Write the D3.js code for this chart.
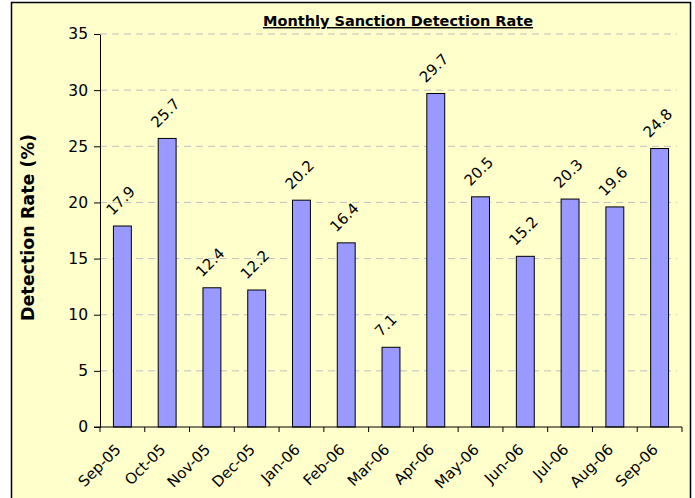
<!DOCTYPE html>
<html>
<head>
<meta charset="utf-8">
<script src="https://cdn.jsdelivr.net/npm/d3@7"></script>
<style>
  body { margin: 0; background: #fff; }
  text { font-family: "DejaVu Sans", Verdana, sans-serif; }
</style>
</head>
<body>
<div id="chart"></div>
<script>
// chart data
var months = ["Sep-05", "Oct-05", "Nov-05", "Dec-05", "Jan-06", "Feb-06", "Mar-06",
              "Apr-06", "May-06", "Jun-06", "Jul-06", "Aug-06", "Sep-06"];
var rates = [17.9, 25.7, 12.4, 12.2, 20.2, 16.4, 7.1, 29.7, 20.5, 15.2, 20.3, 19.6, 24.8];
var yTicks = [0, 5, 10, 15, 20, 25, 30, 35];

var W = 695, H = 498;
var margin = {top: 34, right: 13, bottom: 71, left: 100},
    width = 682 - margin.left,
    height = 427 - margin.top;

var svg = d3.select("#chart").append("svg")
    .attr("width", W)
    .attr("height", H);

// outer chart area
svg.append("rect")
    .attr("x", 11.5).attr("y", 2.5)
    .attr("width", 679).attr("height", 500)
    .attr("fill", "#FFFFCC")
    .attr("stroke", "#000")
    .attr("stroke-width", 1.5);

var g = svg.append("g")
    .attr("transform", "translate(" + margin.left + "," + margin.top + ")");

var x = d3.scaleBand()
    .domain(months)
    .range([0, width])
    .paddingInner(0.6)
    .paddingOuter(0.3);

var y = d3.scaleLinear()
    .domain([0, 35])
    .range([height, 0]);

// dashed gridlines
g.selectAll(".grid")
  .data(yTicks.filter(function(d) { return d > 0; }))
  .enter().append("line")
    .attr("x1", 0)
    .attr("x2", width - 5)
    .attr("y1", function(d) { return y(d); })
    .attr("y2", function(d) { return y(d); })
    .attr("stroke", "#c0c0c0")
    .attr("stroke-dasharray", "7,5")
    .attr("stroke-width", 1);

// bars
g.selectAll(".bar")
  .data(rates)
  .enter().append("rect")
    .attr("x", function(d, i) { return x(months[i]); })
    .attr("y", function(d) { return y(d); })
    .attr("width", x.bandwidth())
    .attr("height", function(d) { return height - y(d); })
    .attr("fill", "#9999FF")
    .attr("stroke", "#000")
    .attr("stroke-width", 1);

// value labels
g.selectAll(".val")
  .data(rates)
  .enter().append("text")
    .attr("transform", function(d, i) {
      var cx = x(months[i]) + x.bandwidth() / 2;
      return "translate(" + (cx - 10) + "," + (y(d) - 10) + ") rotate(-45)";
    })
    .style("font-size", "15px")
    .attr("fill", "#000")
    .text(function(d) { return d3.format(".1f")(d); });

// y axis
var yAxis = g.append("g")
    .call(d3.axisLeft(y).tickValues(yTicks).tickSize(6).tickSizeOuter(0));
yAxis.selectAll("text").style("font-size", "15.5px").attr("x", -12);
yAxis.select(".domain").attr("stroke", "#000");

// x axis, ticks at band edges
var edges = d3.range(months.length + 1).map(function(i) { return i * width / months.length; });
var xg = g.append("g").attr("transform", "translate(0," + height + ")");
xg.append("line").attr("x1", -6).attr("x2", width).attr("stroke", "#000");
xg.selectAll(".tk")
  .data(edges)
  .enter().append("line")
    .attr("x1", function(d) { return d; })
    .attr("x2", function(d) { return d; })
    .attr("y1", 0).attr("y2", 5)
    .attr("stroke", "#000");
xg.selectAll(".lbl")
  .data(months)
  .enter().append("text")
    .attr("transform", function(d) {
      var cx = x(d) + x.bandwidth() / 2;
      return "translate(" + (cx - 8) + ",16) rotate(-45)";
    })
    .attr("text-anchor", "end")
    .attr("dy", "0.7em")
    .style("font-size", "15px")
    .text(function(d) { return d; });

// y axis title
svg.append("text")
    .attr("transform", "translate(34," + (margin.top + height / 2 - 3) + ") rotate(-90)")
    .attr("text-anchor", "middle")
    .style("font-size", "17.5px")
    .style("font-weight", "bold")
    .text("Detection Rate (%)");

// chart title
svg.append("text")
    .attr("x", 398).attr("y", 26)
    .attr("text-anchor", "middle")
    .style("font-size", "14.5px")
    .style("font-weight", "bold")
    .style("text-decoration", "underline")
    .text("Monthly Sanction Detection Rate");
</script>
</body>
</html>
